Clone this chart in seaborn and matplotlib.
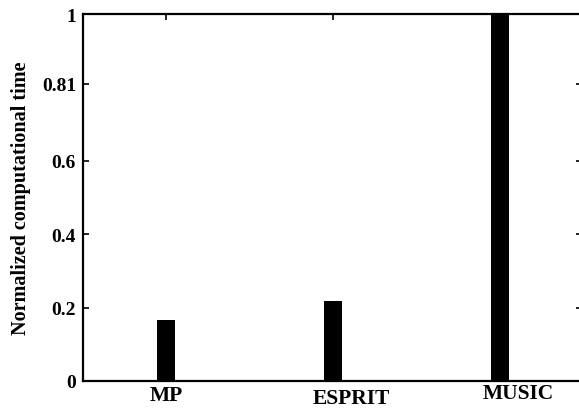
import matplotlib
matplotlib.use('Agg')
import matplotlib.pyplot as plt
from matplotlib.transforms import ScaledTranslation
import seaborn as sns
import pandas as pd

# 数据
methods = ['MP', 'ESPRIT', 'MUSIC']
norm_time = [0.166, 0.218, 1.0]
y_ticks = [0, 0.2, 0.4, 0.6, 0.81, 1]
y_tick_labels = ['0', '0.2', '0.4', '0.6', '0.81', '1']

sns.set_style('ticks')
plt.rcParams['font.family'] = ['Liberation Serif', 'DejaVu Serif']
plt.rcParams['font.weight'] = 'bold'
plt.rcParams['text.color'] = 'black'
plt.rcParams['axes.labelcolor'] = 'black'
plt.rcParams['xtick.color'] = 'black'
plt.rcParams['ytick.color'] = 'black'
plt.rcParams['axes.edgecolor'] = 'black'

df = pd.DataFrame({'method': methods, 'time': norm_time})

fig = plt.figure(figsize=(5.79, 4.10), dpi=100)
ax = fig.add_axes([83 / 579, 28 / 410, 499 / 579, 367 / 410])

sns.barplot(data=df, x='method', y='time', color='black', width=0.105,
            saturation=1, linewidth=0, ax=ax)

ax.set_xlim(-0.497, 2.491)
ax.set_ylim(0, 1)
ax.set_yticks(y_ticks)
ax.set_yticklabels(y_tick_labels, fontsize=14, fontweight='bold')
ax.set_xticks(range(len(methods)))
ax.set_xticklabels(methods, fontsize=15.5, fontweight='bold')
ax.set_xlabel('')
ax.set_ylabel('Normalized computational time', fontsize=14.5, fontweight='bold',
              labelpad=8)

for s in ax.spines.values():
    s.set_linewidth(1.6)
    s.set_visible(True)
ax.tick_params(axis='y', direction='in', length=4, width=1.2, right=True, pad=5)
ax.tick_params(axis='x', direction='in', length=4, width=1.2, top=True,
               bottom=False, pad=3)

# 标签的细微偏移 (像素)
offsets = [(0, 0), (18, -3), (18, 2)]
for lab, (dx, dy) in zip(ax.get_xticklabels(), offsets):
    lab.set_transform(lab.get_transform() +
                      ScaledTranslation(dx / 100, dy / 100, fig.dpi_scale_trans))

plt.savefig('out.png', dpi=100)
